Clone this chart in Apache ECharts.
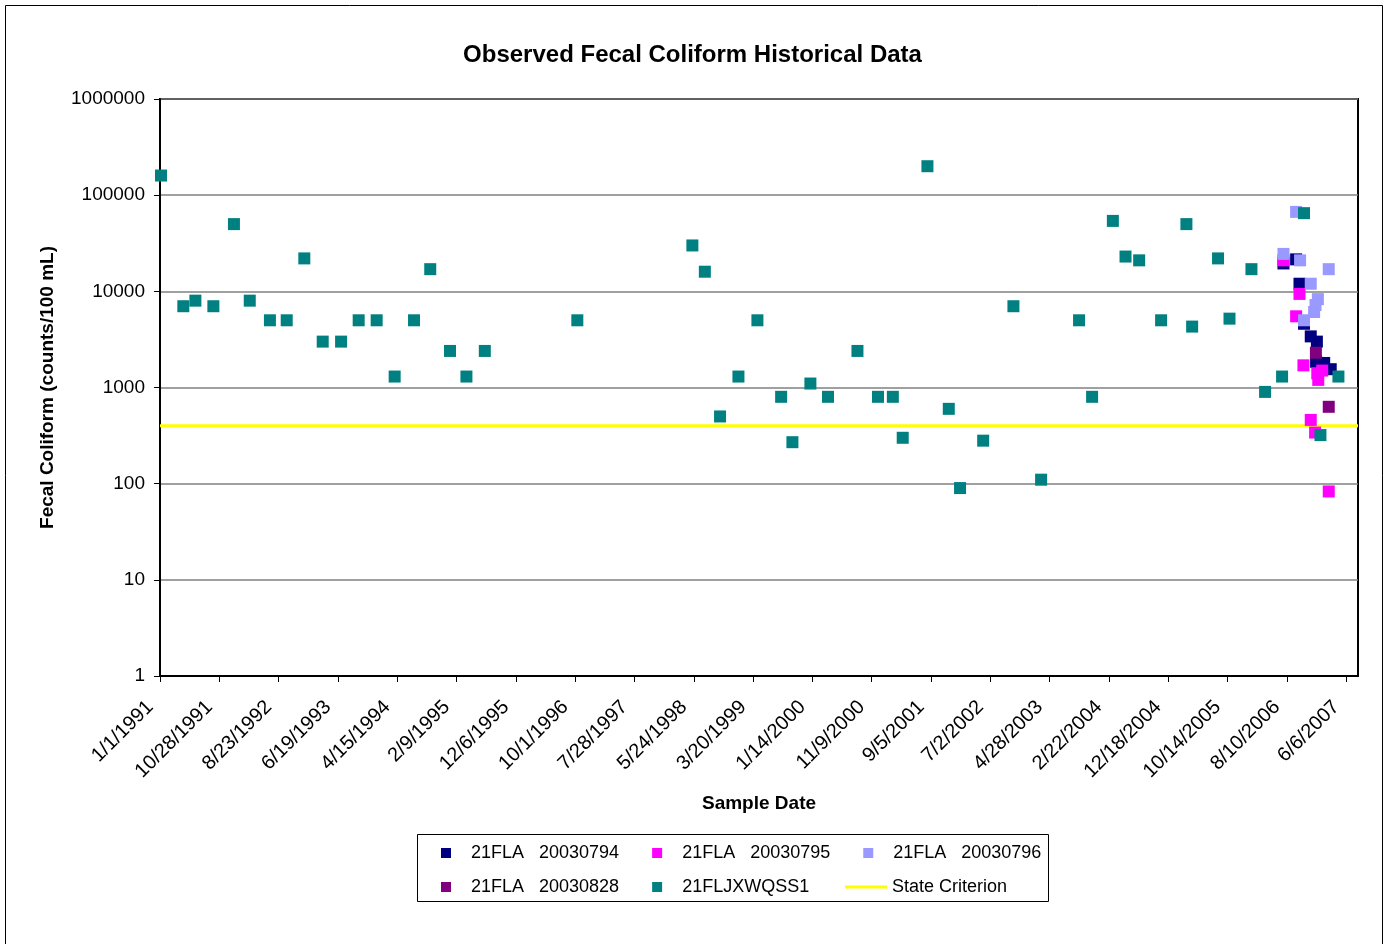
<!DOCTYPE html>
<html>
<head>
<meta charset="utf-8">
<script src="https://cdn.jsdelivr.net/npm/echarts@6/dist/echarts.min.js"></script>
<style>html,body{margin:0;padding:0;background:#fff}#c{width:1385px;height:944px}</style>
</head>
<body>
<div id="c"></div>
<script>
// x values are days since 1/1/1991
const xTickLabels = ['1/1/1991','10/28/1991','8/23/1992','6/19/1993','4/15/1994','2/9/1995','12/6/1995','10/1/1996','7/28/1997','5/24/1998','3/20/1999','1/14/2000','11/9/2000','9/5/2001','7/2/2002','4/28/2003','2/22/2004','12/18/2004','10/14/2005','8/10/2006','6/6/2007'];
const yTickLabels = ['1','10','100','1000','10000','100000','1000000'];

const navyDays = [5683,5747,5764,5787,5821,5852,5848,5889,5922];
const navyValues = [19500,21500,12000,4600,3400,3000,1850,1800,1550];

const magentaDays = [5683,5764,5747,5784,5854,5879,5859,5821,5843,5912];
const magentaValues = [21000,9400,5500,1700,1400,1500,1200,460,340,83];

const lightDays = [5683,5747,5767,5912,5821,5857,5845,5838,5787];
const lightValues = [24500,67000,21000,17000,12000,8300,7200,6100,5000];

const purpleDays = [5847,5912];
const purpleValues = [2300,630];

const tealDays = [5,118,179,270,374,454,556,641,730,823,916,1005,1096,1187,1285,1367,1467,1550,1643,2111,2693,2756,2833,2926,3022,3142,3199,3290,3379,3528,3632,3707,3757,3882,3990,4047,4164,4317,4457,4649,4715,4820,4884,4953,5064,5192,5221,5352,5410,5521,5590,5676,5787,5870,5961];
const tealValues = [160000,7000,8000,7000,50000,8000,5000,5000,22000,3000,3000,5000,5000,1300,5000,17000,2400,1300,2400,5000,30000,16000,500,1300,5000,800,270,1100,800,2400,800,800,300,200000,600,90,280,7000,110,5000,800,54000,23000,21000,5000,50000,4300,22000,5200,17000,900,1300,65000,320,1300];

const critDays = [0,6060];
const critValues = [400,400];

const seriesNames = ['21FLA   20030794','21FLA   20030795','21FLA   20030796','21FLA   20030828','21FLJXWQSS1','State Criterion'];

const FONT = 'Liberation Sans, Arial, Helvetica, sans-serif';
const zip = (a, b) => a.map((d, i) => [d, b[i]]);
const tickValues = xTickLabels.map((_, i) => i * 300);

function scatter(name, color, days, vals) {
  return {
    name: name, type: 'scatter', symbol: 'rect', symbolSize: 12,
    itemStyle: { color: color, opacity: 1 },
    emphasis: { disabled: true },
    data: zip(days, vals)
  };
}

const chart = echarts.init(document.getElementById('c'), null, { renderer: 'canvas' });
chart.setOption({
  animation: false,
  backgroundColor: '#ffffff',
  textStyle: { fontFamily: FONT },
  title: {
    text: 'Observed Fecal Coliform Historical Data',
    left: 'center', top: 38,
    textStyle: { fontFamily: FONT, fontSize: 24, fontWeight: 'bold', color: '#000' }
  },
  graphic: [
    { type: 'rect', shape: { x: 5.5, y: 5.5, width: 1377, height: 1000 }, style: { fill: 'none', stroke: '#000', lineWidth: 1 }, silent: true, z: -10 },
    { type: 'rect', shape: { x: 417.5, y: 834.5, width: 631, height: 67 }, style: { fill: '#fff', stroke: '#000', lineWidth: 1 }, silent: true, z: -5 }
  ],
  grid: {
    left: 160, right: 27, top: 99, bottom: 268,
    show: true, borderColor: '#000', borderWidth: 2, backgroundColor: '#fff',
    outerBoundsMode: 'none', containLabel: false
  },
  legend: [
    {
      data: seriesNames.slice(0, 3), left: 441, top: 844, padding: 0,
      itemWidth: 10, itemHeight: 10, itemGap: 33, icon: 'rect',
      formatter: n => '   ' + n, selectedMode: false,
      textStyle: { fontFamily: FONT, fontSize: 18, color: '#000' }
    },
    {
      data: seriesNames.slice(3, 5), left: 441, top: 878, padding: 0,
      itemWidth: 10, itemHeight: 10, itemGap: 33, icon: 'rect',
      formatter: n => '   ' + n, selectedMode: false,
      textStyle: { fontFamily: FONT, fontSize: 18, color: '#000' }
    },
    {
      data: [seriesNames[5]], left: 845, top: 878, padding: 0,
      itemWidth: 42, itemHeight: 3, icon: 'rect', selectedMode: false,
      textStyle: { fontFamily: FONT, fontSize: 18, color: '#000' }
    }
  ],
  xAxis: {
    type: 'value', min: 0, max: 6060, interval: 300,
    name: 'Sample Date', nameLocation: 'middle', nameGap: 118, nameMoveOverlap: false,
    nameTextStyle: { fontFamily: FONT, fontSize: 19, fontWeight: 'bold', color: '#000' },
    axisLine: { show: true, lineStyle: { color: '#000', width: 2 } },
    axisTick: { show: true, length: 6, inside: false, lineStyle: { color: '#000', width: 1 }, customValues: tickValues },
    axisLabel: {
      show: true, rotate: 45, margin: 18, padding: [0, 14, 0, 0], color: '#000', fontFamily: FONT, fontSize: 20,
      customValues: tickValues,
      formatter: v => { const i = Math.round(v / 300); return (Math.abs(v - i * 300) < 1e-6 && xTickLabels[i]) ? xTickLabels[i] : ''; }
    },
    splitLine: { show: false }
  },
  yAxis: {
    type: 'log', logBase: 10, min: 1, max: 1000000, splitNumber: 6,
    name: 'Fecal Coliform (counts/100 mL)', nameLocation: 'middle', nameGap: 103, nameMoveOverlap: false,
    nameTextStyle: { fontFamily: FONT, fontSize: 19, fontWeight: 'bold', color: '#000' },
    axisLine: { show: true, lineStyle: { color: '#000', width: 2 } },
    axisTick: { show: true, length: 6, inside: false, lineStyle: { color: '#000', width: 1 } },
    axisLabel: {
      show: true, margin: 15, color: '#000', fontFamily: FONT, fontSize: 19,
      formatter: v => { const i = Math.round(Math.log10(v)); return yTickLabels[i] || ''; }
    },
    splitLine: { show: true, lineStyle: { color: '#808080', width: 1.5 } },
    minorTick: { show: false }, minorSplitLine: { show: false }
  },
  series: [
    scatter(seriesNames[0], '#000080', navyDays, navyValues),
    scatter(seriesNames[1], '#FF00FF', magentaDays, magentaValues),
    scatter(seriesNames[2], '#9999FF', lightDays, lightValues),
    scatter(seriesNames[3], '#800080', purpleDays, purpleValues),
    scatter(seriesNames[4], '#008080', tealDays, tealValues),
    {
      name: seriesNames[5], type: 'line', showSymbol: false, symbol: 'none',
      itemStyle: { color: '#FFFF00' },
      lineStyle: { color: '#FFFF00', width: 3 },
      emphasis: { disabled: true },
      data: zip(critDays, critValues), z: 1
    }
  ]
});
</script>
</body>
</html>
